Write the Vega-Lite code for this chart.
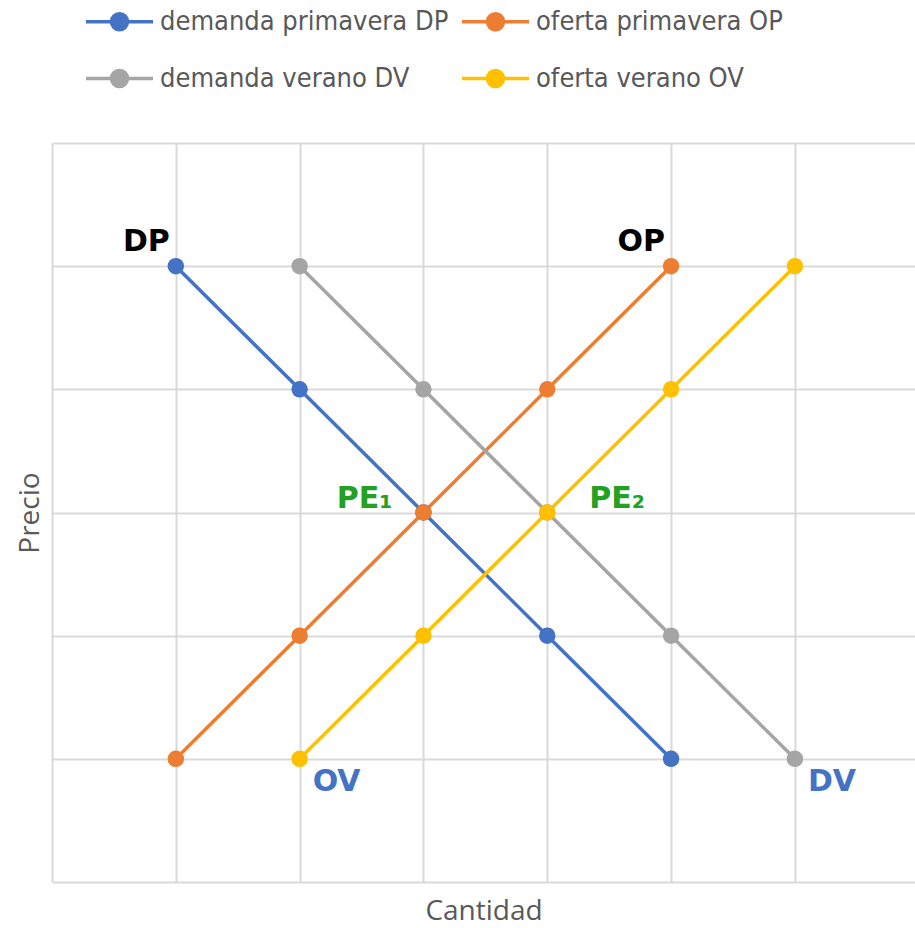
{
  "$schema": "https://vega.github.io/schema/vega-lite/v6.json",
  "width": 863,
  "height": 739,
  "autosize": {"type": "none"},
  "padding": {"left": 52, "top": 143, "right": 0, "bottom": 46},
  "background": "white",
  "config": {"view": {"stroke": null}, "font": "DejaVu Sans Condensed, Noto Sans, sans-serif"},
  "datasets": {
    "curvas": [
      {"serie": "demanda primavera DP", "cantidad": 1, "precio": 5},
      {"serie": "demanda primavera DP", "cantidad": 2, "precio": 4},
      {"serie": "demanda primavera DP", "cantidad": 3, "precio": 3},
      {"serie": "demanda primavera DP", "cantidad": 4, "precio": 2},
      {"serie": "demanda primavera DP", "cantidad": 5, "precio": 1},
      {"serie": "oferta primavera OP", "cantidad": 1, "precio": 1},
      {"serie": "oferta primavera OP", "cantidad": 2, "precio": 2},
      {"serie": "oferta primavera OP", "cantidad": 3, "precio": 3},
      {"serie": "oferta primavera OP", "cantidad": 4, "precio": 4},
      {"serie": "oferta primavera OP", "cantidad": 5, "precio": 5},
      {"serie": "demanda verano DV", "cantidad": 2, "precio": 5},
      {"serie": "demanda verano DV", "cantidad": 3, "precio": 4},
      {"serie": "demanda verano DV", "cantidad": 4, "precio": 3},
      {"serie": "demanda verano DV", "cantidad": 5, "precio": 2},
      {"serie": "demanda verano DV", "cantidad": 6, "precio": 1},
      {"serie": "oferta verano OV", "cantidad": 2, "precio": 1},
      {"serie": "oferta verano OV", "cantidad": 3, "precio": 2},
      {"serie": "oferta verano OV", "cantidad": 4, "precio": 3},
      {"serie": "oferta verano OV", "cantidad": 5, "precio": 4},
      {"serie": "oferta verano OV", "cantidad": 6, "precio": 5}
    ],
    "etiquetas": [
      {"etiqueta": "DP", "grupo": "curva", "cantidad": 1, "precio": 5},
      {"etiqueta": "OP", "grupo": "curva", "cantidad": 5, "precio": 5},
      {"etiqueta": "PE₁", "grupo": "eq1", "cantidad": 3, "precio": 3},
      {"etiqueta": "PE₂", "grupo": "eq2", "cantidad": 4, "precio": 3},
      {"etiqueta": "OV", "grupo": "verano", "cantidad": 2, "precio": 1},
      {"etiqueta": "DV", "grupo": "verano", "cantidad": 6, "precio": 1}
    ]
  },
  "encoding": {
    "x": {
      "field": "cantidad", "type": "quantitative",
      "scale": {"domain": [0, 6.97], "nice": false, "zero": false},
      "axis": {
        "values": [0, 1, 2, 3, 4, 5, 6],
        "grid": true, "gridColor": "#d9d9d9", "gridWidth": 2,
        "labels": false, "ticks": false, "domain": false,
        "title": "Cantidad", "titleFontSize": 28, "titleFontWeight": "normal",
        "titleColor": "#595959", "titlePadding": 15, "titleFont": "Open Sans"
      }
    },
    "y": {
      "field": "precio", "type": "quantitative",
      "scale": {"domain": [0, 6], "nice": false, "zero": false},
      "axis": {
        "values": [0, 1, 2, 3, 4, 5, 6],
        "grid": true, "gridColor": "#d9d9d9", "gridWidth": 2,
        "labels": false, "ticks": false, "domain": false,
        "title": "Precio", "titleFontSize": 28, "titleFontWeight": "normal",
        "titleColor": "#595959", "titlePadding": 8, "titleFont": "Open Sans"
      }
    }
  },
  "layer": [
    {
      "data": {"name": "curvas"},
      "mark": {"type": "line", "strokeWidth": 3.5},
      "encoding": {
        "color": {
          "field": "serie", "type": "nominal",
          "scale": {
            "domain": ["demanda primavera DP", "oferta primavera OP", "demanda verano DV", "oferta verano OV"],
            "range": ["#4472C4", "#ED7D31", "#A5A5A5", "#FFC000"]
          },
          "legend": {
            "orient": "none", "legendX": 32, "legendY": -135,
            "direction": "horizontal", "columns": 2, "title": null,
            "symbolType": "M -1.15 0 L 5.55 0 M 1.4 0 A 0.8 0.8 0 1 0 3.0 0 A 0.8 0.8 0 1 0 1.4 0 Z",
            "symbolSize": 400, "symbolStrokeWidth": 3.5,
            "labelFontSize": 27, "labelColor": "#595959", "labelFont": "DejaVu Sans Condensed, Noto Sans, sans-serif",
            "labelOffset": 49, "rowPadding": 26, "columnPadding": 6,
            "labelLimit": 400,
            "encode": {
              "symbols": {"update": {
                "fill": {"scale": "color", "field": "value"},
                "stroke": {"scale": "color", "field": "value"},
                "opacity": {"value": 1}
              }}
            }
          }
        },
        "detail": {"field": "serie"},
        "order": {"field": "cantidad"}
      }
    },
    {
      "data": {"name": "curvas"},
      "mark": {"type": "point", "filled": true, "size": 270, "opacity": 1},
      "encoding": {
        "color": {"field": "serie", "type": "nominal", "legend": null}
      }
    },
    {
      "data": {"name": "etiquetas"},
      "transform": [{"filter": "datum.grupo == 'curva'"}],
      "mark": {"type": "text", "font": "DejaVu Sans", "fontWeight": "bold", "fontSize": 30, "color": "#000000", "align": "right", "baseline": "middle", "dx": -6, "dy": -24},
      "encoding": {"text": {"field": "etiqueta"}}
    },
    {
      "data": {"name": "etiquetas"},
      "transform": [{"filter": "datum.grupo == 'eq1'"}],
      "mark": {"type": "text", "font": "DejaVu Sans", "fontWeight": "bold", "fontSize": 30, "color": "#22A122", "align": "right", "baseline": "middle", "dx": -31, "dy": -14},
      "encoding": {"text": {"field": "etiqueta"}}
    },
    {
      "data": {"name": "etiquetas"},
      "transform": [{"filter": "datum.grupo == 'eq2'"}],
      "mark": {"type": "text", "font": "DejaVu Sans", "fontWeight": "bold", "fontSize": 30, "color": "#22A122", "align": "left", "baseline": "middle", "dx": 42, "dy": -14},
      "encoding": {"text": {"field": "etiqueta"}}
    },
    {
      "data": {"name": "etiquetas"},
      "transform": [{"filter": "datum.grupo == 'verano'"}],
      "mark": {"type": "text", "font": "DejaVu Sans", "fontWeight": "bold", "fontSize": 30, "color": "#4472C4", "align": "left", "baseline": "middle", "dx": 13, "dy": 23},
      "encoding": {"text": {"field": "etiqueta"}}
    }
  ]
}
